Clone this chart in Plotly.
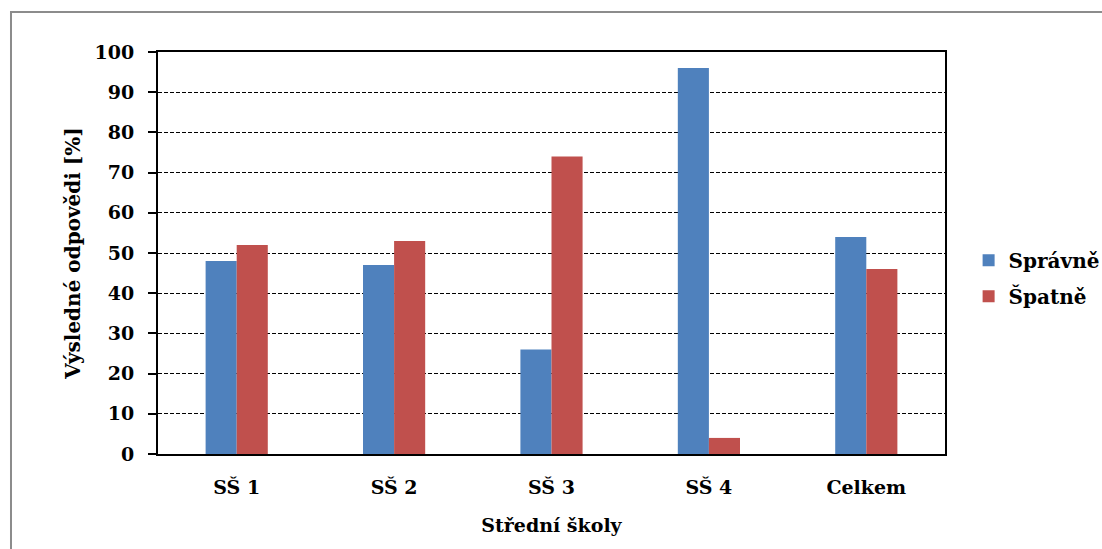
import plotly.graph_objects as go

categories = ["SŠ 1", "SŠ 2", "SŠ 3", "SŠ 4", "Celkem"]
spravne = [48, 47, 26, 96, 54]
spatne = [52, 53, 74, 4, 46]
y_ticks = list(range(0, 101, 10))

FONT = "DejaVu Serif"

fig = go.Figure()
fig.add_trace(go.Bar(name="Správně", x=categories, y=spravne, legendgroup="a",
                     marker=dict(color="#4F81BD", line=dict(width=0))))
fig.add_trace(go.Bar(name="Špatně", x=categories, y=spatne, legendgroup="b",
                     marker=dict(color="#C0504D", line=dict(width=0))))

def f(size):
    return dict(family=FONT, size=size, color="black", weight="bold")

fig.update_layout(
    width=1102, height=549,
    margin=dict(l=158, r=157, t=52, b=95, autoexpand=False),
    paper_bgcolor="white", plot_bgcolor="white",
    barmode="group", bargap=0.605, bargroupgap=0,
    font=f(20),
    showlegend=True,
    legend=dict(x=1.03, y=0.437, xanchor="left", yanchor="middle",
                font=f(20), bgcolor="rgba(0,0,0,0)", itemsizing="constant",
                traceorder="grouped", tracegroupgap=7),
    xaxis=dict(
        automargin=False,
        showline=True, linecolor="black", linewidth=2, mirror=True,
        ticks="", showgrid=False,
        tickfont=f(19),
        ticklabelstandoff=15,
        title=dict(text="Střední školy", font=f(19), standoff=22),
    ),
    yaxis=dict(
        automargin=False,
        range=[0, 100], tickvals=y_ticks,
        showline=True, linecolor="black", linewidth=2, mirror=True,
        ticks="outside", ticklen=8, tickwidth=1.5, tickcolor="black",
        showgrid=True, gridcolor="black", gridwidth=1, griddash="4px,2px",
        zeroline=False,
        tickfont=f(19),
        ticklabelstandoff=10,
        title=dict(text="Výsledné odpovědi [%]", font=f(20), standoff=9),
    ),
)

fig.add_shape(type="path", xref="paper", yref="paper",
              path="M -0.1868,-0.5 L -0.1868,1.0995 L 1.3,1.0995",
              line=dict(color="#8c8c8c", width=2), layer="below")

fig.write_html("out.html")
